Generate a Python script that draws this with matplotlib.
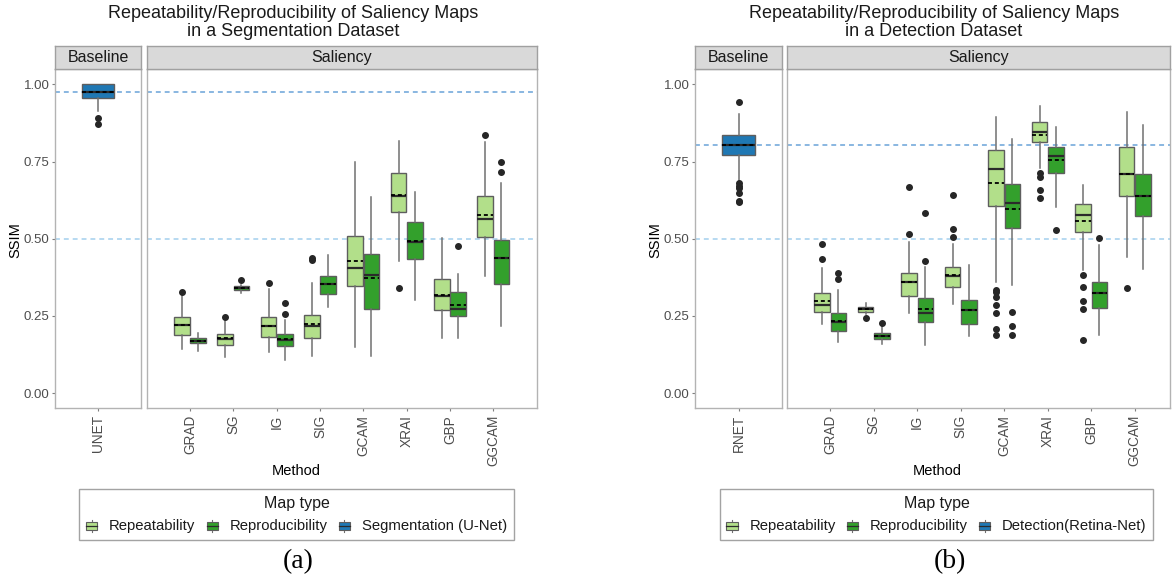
import matplotlib
matplotlib.use("Agg")
import matplotlib.pyplot as plt
from matplotlib.patches import Rectangle
from matplotlib.lines import Line2D

plt.rcParams['font.family'] = ['Liberation Sans', 'DejaVu Sans']

# ---------------- data ----------------
methods = ["GRAD", "SG", "IG", "SIG", "GCAM", "XRAI", "GBP", "GGCAM"]

# Panel (a): segmentation dataset
a_rep_lo = [0.142, 0.117, 0.132, 0.121, 0.149, 0.428, 0.180, 0.378]
a_rep_q1 = [0.190, 0.155, 0.182, 0.180, 0.346, 0.588, 0.269, 0.507]
a_rep_med = [0.220, 0.176, 0.216, 0.216, 0.405, 0.639, 0.316, 0.564]
a_rep_mean = [0.222, 0.178, 0.219, 0.223, 0.427, 0.642, 0.318, 0.577]
a_rep_q3 = [0.246, 0.193, 0.248, 0.252, 0.510, 0.712, 0.369, 0.640]
a_rep_hi = [0.315, 0.234, 0.337, 0.356, 0.749, 0.817, 0.504, 0.814]
a_rep_out = [[0.329], [0.248], [0.358], [0.437, 0.431], [], [0.341], [], [0.837]]

a_pro_lo = [0.138, 0.324, 0.106, 0.280, 0.119, 0.302, 0.180, 0.219]
a_pro_q1 = [0.161, 0.334, 0.153, 0.320, 0.273, 0.435, 0.249, 0.355]
a_pro_med = [0.169, 0.341, 0.172, 0.353, 0.382, 0.489, 0.274, 0.439]
a_pro_mean = [0.170, 0.342, 0.174, 0.353, 0.372, 0.492, 0.285, 0.439]
a_pro_q3 = [0.178, 0.347, 0.193, 0.378, 0.451, 0.553, 0.327, 0.496]
a_pro_hi = [0.196, 0.351, 0.237, 0.446, 0.636, 0.653, 0.386, 0.680]
a_pro_out = [[], [0.365], [0.291, 0.255], [], [], [], [0.478], [0.749, 0.716]]

a_base_name = "UNET"
a_base = dict(whislo=0.915, q1=0.957, med=0.976, mean=0.975, q3=1.0, whishi=1.0,
              fliers=[0.892, 0.872])
a_ref_line = 0.975

# Panel (b): detection dataset
b_rep_lo = [0.223, 0.256, 0.261, 0.288, 0.361, 0.730, 0.399, 0.440]
b_rep_q1 = [0.264, 0.264, 0.316, 0.345, 0.607, 0.812, 0.521, 0.639]
b_rep_med = [0.286, 0.272, 0.359, 0.381, 0.725, 0.847, 0.577, 0.710]
b_rep_mean = [0.297, 0.272, 0.359, 0.383, 0.682, 0.836, 0.559, 0.709]
b_rep_q3 = [0.324, 0.278, 0.388, 0.410, 0.787, 0.877, 0.612, 0.796]
b_rep_hi = [0.405, 0.291, 0.491, 0.483, 0.895, 0.931, 0.674, 0.912]
b_rep_out = [[0.482, 0.435], [0.243], [0.667, 0.515], [0.643, 0.531, 0.505],
             [0.334, 0.327, 0.313, 0.286, 0.259, 0.207, 0.189],
             [0.714, 0.701, 0.658, 0.631], [0.383, 0.343, 0.299, 0.272, 0.173], [0.342]]

b_pro_lo = [0.165, 0.159, 0.156, 0.186, 0.351, 0.604, 0.187, 0.402]
b_pro_q1 = [0.202, 0.176, 0.229, 0.224, 0.534, 0.712, 0.275, 0.575]
b_pro_med = [0.232, 0.186, 0.261, 0.270, 0.617, 0.769, 0.324, 0.639]
b_pro_mean = [0.234, 0.186, 0.272, 0.270, 0.595, 0.755, 0.325, 0.639]
b_pro_q3 = [0.261, 0.196, 0.307, 0.302, 0.677, 0.798, 0.361, 0.709]
b_pro_hi = [0.334, 0.216, 0.410, 0.415, 0.822, 0.863, 0.480, 0.868]
b_pro_out = [[0.388, 0.369], [0.227], [0.583, 0.429], [], [0.264, 0.218, 0.189],
             [0.529], [0.502], []]

b_base_name = "RNET"
b_base = dict(whislo=0.685, q1=0.773, med=0.804, mean=0.803, q3=0.836, whishi=0.904,
              fliers=[0.944, 0.680, 0.672, 0.663, 0.649, 0.624, 0.618])
b_ref_line = 0.803

y_ticks = [0.00, 0.25, 0.50, 0.75, 1.00]
half_line = 0.5

C_REP = "#b2df8a"
C_PRO = "#33a02c"
C_BASE = "#1f78b4"
C_LINE_TOP = "#6aa3d8"
C_LINE_HALF = "#a3d0ee"
GRAY_TXT = "#4d4d4d"
BORDER = "#b3b3b3"

W, H = 1172, 581
fig = plt.figure(figsize=(W / 100, H / 100), dpi=100)


def rect(x0, y0, x1, y1):
    return [x0 / W, 1 - y1 / H, (x1 - x0) / W, (y1 - y0) / H]


def make_stats(lo, q1, med, mean, q3, hi, out):
    return [dict(whislo=lo[i], q1=q1[i], med=med[i], mean=mean[i], q3=q3[i],
                 whishi=hi[i], fliers=out[i]) for i in range(len(lo))]


def draw(ax, stats, positions, color, width):
    ax.bxp(stats, positions=positions, widths=width, patch_artist=True,
           showmeans=True, meanline=True, showcaps=False, showfliers=True,
           boxprops=dict(facecolor=color, edgecolor="#5e5e5e", linewidth=1.0),
           medianprops=dict(color="#2b2b2b", linewidth=1.6),
           meanprops=dict(color="black", linestyle=(0, (2.2, 1.6)), linewidth=1.3),
           whiskerprops=dict(color="#707070", linewidth=1.1),
           flierprops=dict(marker="o", markerfacecolor="#262626",
                           markeredgecolor="#262626", markersize=4),
           manage_ticks=False, zorder=3)


def style_ax(ax, xlim, labels, positions, show_y):
    ax.set_xlim(*xlim)
    ax.set_ylim(-0.048, 1.05)
    for s in ax.spines.values():
        s.set_color(BORDER)
        s.set_linewidth(1.0)
    ax.set_xticks(positions)
    ax.set_xticklabels(labels, rotation=90, va="top", ha="center")
    ax.tick_params(axis="x", length=2.5, width=0.8, color="#7f7f7f", pad=2.5,
                   labelsize=9.8, labelcolor=GRAY_TXT)
    if show_y:
        ax.set_yticks(y_ticks)
        ax.set_yticklabels(["%.2f" % t for t in y_ticks])
        ax.tick_params(axis="y", length=2.5, width=0.8, color="#7f7f7f", pad=1.5,
                       labelsize=9.5, labelcolor=GRAY_TXT)
    else:
        ax.set_yticks([])


def strip(x0, x1, text):
    s = fig.add_axes(rect(x0, 46, x1, 69))
    s.set_facecolor("#d9d9d9")
    s.set_xticks([])
    s.set_yticks([])
    for sp in s.spines.values():
        sp.set_color("#a0a0a0")
        sp.set_linewidth(1.0)
    s.text(0.5, 0.5, text, ha="center", va="center", fontsize=11.5,
           color="#1a1a1a", transform=s.transAxes)


class BoxHandler:
    def legend_artist(self, legend, orig_handle, fontsize, handlebox):
        x0, y0 = handlebox.xdescent, handlebox.ydescent
        w, h = handlebox.width, handlebox.height
        tr = handlebox.get_transform()
        wl = Line2D([x0 + w / 2, x0 + w / 2], [y0 - 0.15 * h, y0 + 1.15 * h],
                    color="#707070", lw=0.8, transform=tr)
        r = Rectangle((x0, y0 + 0.1 * h), w, 0.8 * h, facecolor=orig_handle,
                      edgecolor="#5e5e5e", lw=0.8, transform=tr)
        m = Line2D([x0, x0 + w], [y0 + 0.5 * h, y0 + 0.5 * h], color="#2b2b2b",
                   lw=0.9, transform=tr)
        handlebox.add_artist(wl)
        handlebox.add_artist(r)
        handlebox.add_artist(m)
        return r


class ColorKey:
    def __init__(self, c):
        self.c = c


class KeyHandler(BoxHandler):
    def legend_artist(self, legend, orig_handle, fontsize, handlebox):
        return BoxHandler.legend_artist(self, legend, orig_handle.c, fontsize, handlebox)


def panel(xb0, xb1, xs0, xs1, unit, base_name, base, rep, pro, ref_line,
          title2, cx, ylab_x, method_x, legend_labels, leg_cx, cap, cap_x):
    dash = (0, (3.2, 2.6))
    # baseline facet
    axb = fig.add_axes(rect(xb0, 69, xb1, 408))
    axb.axhline(ref_line, color=C_LINE_TOP, ls=dash, lw=1.1, zorder=1)
    axb.axhline(half_line, color=C_LINE_HALF, ls=dash, lw=1.1, zorder=1)
    draw(axb, [base], [1], C_BASE, 0.75)
    style_ax(axb, (0, 2), [base_name], [1], True)
    strip(xb0, xb1, "Baseline")

    # saliency facet
    axs = fig.add_axes(rect(xs0, 69, xs1, 408))
    axs.axhline(ref_line, color=C_LINE_TOP, ls=dash, lw=1.1, zorder=1)
    axs.axhline(half_line, color=C_LINE_HALF, ls=dash, lw=1.1, zorder=1)
    pos = list(range(1, len(methods) + 1))
    draw(axs, rep, [p - 0.1875 for p in pos], C_REP, 0.36)
    draw(axs, pro, [p + 0.1875 for p in pos], C_PRO, 0.36)
    style_ax(axs, (0, (xs1 - xs0) / unit), methods, pos, False)
    strip(xs0, xs1, "Saliency")

    fig.text(cx / W, 1 - 13.0 / H, "Repeatability/Reproducibility of Saliency Maps",
             ha="center", va="center", fontsize=13, color="#1a1a1a")
    fig.text(cx / W, 1 - 31.0 / H, title2, ha="center", va="center",
             fontsize=13, color="#1a1a1a")
    fig.text(ylab_x / W, 1 - 240 / H, "SSIM", rotation=90, ha="center",
             va="center", fontsize=10.5, color="black")
    fig.text(method_x / W, 1 - 471 / H, "Method", ha="center", va="center",
             fontsize=10.5, color="black")

    handles = [ColorKey(C_REP), ColorKey(C_PRO), ColorKey(C_BASE)]
    leg = fig.legend(handles, legend_labels, title="Map type", ncol=3,
                     loc="center", bbox_to_anchor=(leg_cx / W, 1 - 514.5 / H),
                     frameon=True, fancybox=False, edgecolor="#8c8c8c",
                     fontsize=10.7, title_fontsize=11.5, handlelength=0.75,
                     handleheight=0.6, handletextpad=0.8, columnspacing=0.75,
                     borderpad=0.45, labelspacing=0.55,
                     handler_map={ColorKey: KeyHandler()})
    leg.get_frame().set_linewidth(1.0)
    for t in leg.get_texts():
        t.set_color("#1a1a1a")
    leg.get_title().set_color("#1a1a1a")

    fig.text(cap_x / W, 1 - 562 / H, cap, ha="center", va="center",
             fontsize=20, family=["Liberation Serif", "DejaVu Serif"], color="black")


a_rep = make_stats(a_rep_lo, a_rep_q1, a_rep_med, a_rep_mean, a_rep_q3, a_rep_hi, a_rep_out)
a_pro = make_stats(a_pro_lo, a_pro_q1, a_pro_med, a_pro_mean, a_pro_q3, a_pro_hi, a_pro_out)
b_rep = make_stats(b_rep_lo, b_rep_q1, b_rep_med, b_rep_mean, b_rep_q3, b_rep_hi, b_rep_out)
b_pro = make_stats(b_pro_lo, b_pro_q1, b_pro_med, b_pro_mean, b_pro_q3, b_pro_hi, b_pro_out)

panel(55, 141, 146.7, 536.7, 43.33, a_base_name, a_base, a_rep, a_pro, a_ref_line,
      "in a Segmentation Dataset", 293, 15.5, 296,
      ["Repeatability", "Reproducibility", "Segmentation (U-Net)"], 296.5, "(a)", 298)
panel(695, 782, 786.7, 1170, 43.5, b_base_name, b_base, b_rep, b_pro, b_ref_line,
      "in a Detection Dataset", 934, 655, 937,
      ["Repeatability", "Reproducibility", "Detection(Retina-Net)"], 936.5, "(b)", 950)

fig.savefig("out.png", dpi=100)
